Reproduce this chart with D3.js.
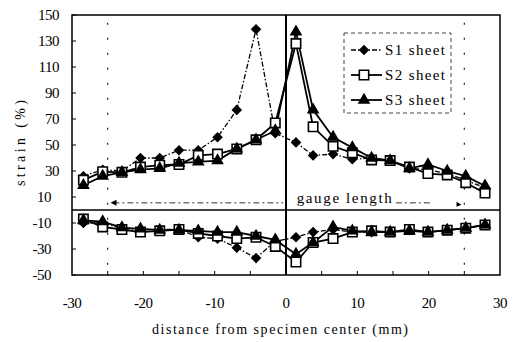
<!DOCTYPE html>
<html>
<head>
<meta charset="utf-8">
<script src="https://cdn.jsdelivr.net/npm/d3@7"></script>
<style>
  body { margin: 0; background: #fff; }
  text { font-family: "Liberation Serif", "Times New Roman", serif; fill: #000; }
</style>
</head>
<body>
<div id="chart"></div>
<script>
// positions along the specimen (mm)
var positions = [-28.4, -25.7, -23.0, -20.4, -17.7, -15.0, -12.3, -9.6, -6.9, -4.2, -1.5,
                 1.4, 3.8, 6.6, 9.3, 12.0, 14.6, 17.3, 19.9, 22.6, 25.2, 27.9];

// tension side strain (%)
var s1Upper = [26, 31, 30, 40, 40, 46, 46, 56, 77, 139, 59, 52, 42, 43, 39, 40, 38, 32, 31, 28, 23, 17];
var s2Upper = [23, 29.5, 29, 33, 34.5, 35, 42, 43, 47, 54, 67, 128, 64, 49, 44, 38.5, 38, 33, 28, 27, 21, 13];
var s3Upper = [19, 26, 29, 31, 32, 36, 37, 38, 47, 54, 61, 137, 77, 56, 48, 40, 38, 32, 35, 30, 26, 18.5];

// compression side strain (%)
var s1Lower = [-10, -10, -14, -15, -15, -15, -21, -22, -29, -37, -24, -21, -17, -15, -17, -17, -17, -15.5, -17, -15.5, -14, -11.5];
var s2Lower = [-7, -13, -15, -17, -16, -15, -18, -20, -22, -21, -28, -40, -25, -22, -17, -16, -17, -15, -17, -15.5, -14, -11.5];
var s3Lower = [-8, -9, -13.5, -14.5, -15.5, -15.5, -16, -17, -17, -20, -23, -34, -25, -13, -16, -17, -17, -16, -17, -15.5, -14, -11.5];

var seriesNames = ["S1  sheet", "S2  sheet", "S3  sheet"];
var yTicks = [150, 130, 110, 90, 70, 50, 30, 10, -10, -30, -50];
var xTicks = [-30, -20, -10, 0, 10, 20, 30];
var gaugeEnds = [-25, 25];

var svgWidth = 519;
var svgHeight = 342;
var margin = { top: 15, left: 72, right: 19, bottom: 67 };
var chartWidth = svgWidth - margin.left - margin.right;
var chartHeight = svgHeight - margin.top - margin.bottom;

var svg = d3.select("#chart").append("svg")
  .attr("width", svgWidth)
  .attr("height", svgHeight);

var chartGroup = svg.append("g").attr("transform", `translate(${margin.left}, ${margin.top})`);

var x = d3.scaleLinear().domain([-30, 30]).range([0, chartWidth]);
var y = d3.scaleLinear().domain([-50, 150]).range([chartHeight, 0]);

// frame
chartGroup.append("rect")
  .attr("width", chartWidth).attr("height", chartHeight)
  .attr("fill", "none").attr("stroke", "#000").attr("stroke-width", 1.5);

// inward ticks
chartGroup.selectAll(".ytick").data(yTicks).enter().append("line")
  .attr("x1", 0).attr("x2", 4)
  .attr("y1", d => y(d)).attr("y2", d => y(d))
  .attr("stroke", "#000").attr("stroke-width", 1);
chartGroup.selectAll(".xtick").data(d3.range(-25, 30, 5)).enter().append("line")
  .attr("x1", d => x(d)).attr("x2", d => x(d))
  .attr("y1", chartHeight).attr("y2", chartHeight - 4)
  .attr("stroke", "#000").attr("stroke-width", 1);

// y tick labels
chartGroup.selectAll(".ylab").data(yTicks).enter().append("text")
  .attr("x", d => d <= 10 ? -21 : -13)
  .attr("y", d => y(d))
  .attr("dy", "0.35em")
  .attr("text-anchor", "end")
  .style("font-size", "15px")
  .style("letter-spacing", "-0.5px")
  .text(d => d);

// x tick labels
chartGroup.selectAll(".xlab").data(xTicks).enter().append("text")
  .attr("x", d => x(d))
  .attr("y", chartHeight + 28)
  .attr("dy", "0.35em")
  .attr("text-anchor", "middle")
  .style("font-size", "15px")
  .style("letter-spacing", "-0.5px")
  .text(d => d);

// zero lines
chartGroup.append("line")
  .attr("x1", 0).attr("x2", chartWidth)
  .attr("y1", y(0)).attr("y2", y(0))
  .attr("stroke", "#000").attr("stroke-width", 1.5);
chartGroup.append("line")
  .attr("x1", x(0)).attr("x2", x(0))
  .attr("y1", 0).attr("y2", chartHeight)
  .attr("stroke", "#000").attr("stroke-width", 2);

// gauge length marks
chartGroup.selectAll(".gauge").data(gaugeEnds).enter().append("line")
  .attr("x1", d => x(d)).attr("x2", d => x(d))
  .attr("y1", y(144)).attr("y2", y(-47))
  .attr("stroke", "#222").attr("stroke-width", 1.2)
  .attr("stroke-dasharray", "2,13");

var gaugeY = y(5.5);
chartGroup.append("line")
  .attr("x1", x(-24.2)).attr("x2", x(-0.4))
  .attr("y1", gaugeY).attr("y2", gaugeY)
  .attr("stroke", "#333").attr("stroke-width", 1)
  .attr("stroke-dasharray", "6,3,2,3");
chartGroup.append("line")
  .attr("x1", x(15.4)).attr("x2", x(20.3))
  .attr("y1", gaugeY).attr("y2", gaugeY)
  .attr("stroke", "#333").attr("stroke-width", 1)
  .attr("stroke-dasharray", "6,3,2,3");
chartGroup.append("path")
  .attr("d", `M${x(-24.6)},${gaugeY} l6,-3 l0,6 z`)
  .attr("fill", "#000");
chartGroup.append("path")
  .attr("d", `M${x(24.6)},${gaugeY + 2} l-5,-3 l0,5 z`)
  .attr("fill", "#000");
chartGroup.append("text")
  .attr("x", x(1.5)).attr("y", gaugeY)
  .attr("textLength", 95)
  .attr("lengthAdjust", "spacing")
  .style("font-size", "15px")
  .text("gauge length");

// series
var series = [
  { name: seriesNames[0], upper: s1Upper, lower: s1Lower, dash: "5,2,1.5,2", shape: "diamond" },
  { name: seriesNames[1], upper: s2Upper, lower: s2Lower, dash: null, shape: "square" },
  { name: seriesNames[2], upper: s3Upper, lower: s3Lower, dash: null, shape: "triangle" }
];

var line = d3.line().x(d => x(d[0])).y(d => y(d[1]));

function marker(g, shape, cx, cy) {
  if (shape === "diamond") {
    g.append("path")
      .attr("d", d3.symbol().type(d3.symbolSquare).size(56)())
      .attr("transform", `translate(${cx},${cy}) rotate(45)`)
      .attr("fill", "#000");
  } else if (shape === "square") {
    g.append("path")
      .attr("d", d3.symbol().type(d3.symbolSquare).size(88)())
      .attr("transform", `translate(${cx},${cy})`)
      .attr("fill", "#fff").attr("stroke", "#000").attr("stroke-width", 1.6);
  } else {
    g.append("path")
      .attr("d", d3.symbol().type(d3.symbolTriangle).size(70)())
      .attr("transform", `translate(${cx},${cy})`)
      .attr("fill", "#000");
  }
}

series.forEach(function(s) {
  [s.upper, s.lower].forEach(function(vals) {
    var pts = positions.map((p, i) => [p, vals[i]]);
    chartGroup.append("path")
      .attr("d", line(pts))
      .attr("fill", "none")
      .attr("stroke", "#000")
      .attr("stroke-width", s.dash ? 1.3 : 1.8)
      .attr("stroke-dasharray", s.dash);
  });
});
series.forEach(function(s) {
  var g = chartGroup.append("g");
  [s.upper, s.lower].forEach(function(vals) {
    positions.forEach(function(p, i) {
      marker(g, s.shape, x(p), y(vals[i]));
    });
  });
});

// legend
var legend = svg.append("g").attr("transform", "translate(344, 33)");
legend.append("rect")
  .attr("width", 107).attr("height", 80)
  .attr("fill", "#fff").attr("stroke", "#444").attr("stroke-width", 1)
  .attr("stroke-dasharray", "4,3");
series.forEach(function(s, i) {
  var ly = 17 + i * 25;
  legend.append("line")
    .attr("x1", 7).attr("x2", 38)
    .attr("y1", ly).attr("y2", ly)
    .attr("stroke", "#000")
    .attr("stroke-width", s.dash ? 1.3 : 1.8)
    .attr("stroke-dasharray", s.dash);
  marker(legend, s.shape, 20, ly);
  legend.append("text")
    .attr("x", 41).attr("y", ly)
    .attr("dy", "0.35em")
    .attr("textLength", 60)
    .attr("lengthAdjust", "spacing")
    .style("font-size", "15px")
    .text(s.name);
});

// axis titles
svg.append("text")
  .attr("x", 152).attr("y", 334)
  .attr("textLength", 256)
  .attr("lengthAdjust", "spacing")
  .style("font-size", "14px")
  .text("distance from specimen center (mm)");

svg.append("text")
  .attr("transform", "translate(25, 186) rotate(-90)")
  .attr("textLength", 86)
  .attr("lengthAdjust", "spacing")
  .style("font-size", "14px")
  .text("strain (%)");
</script>
</body>
</html>
